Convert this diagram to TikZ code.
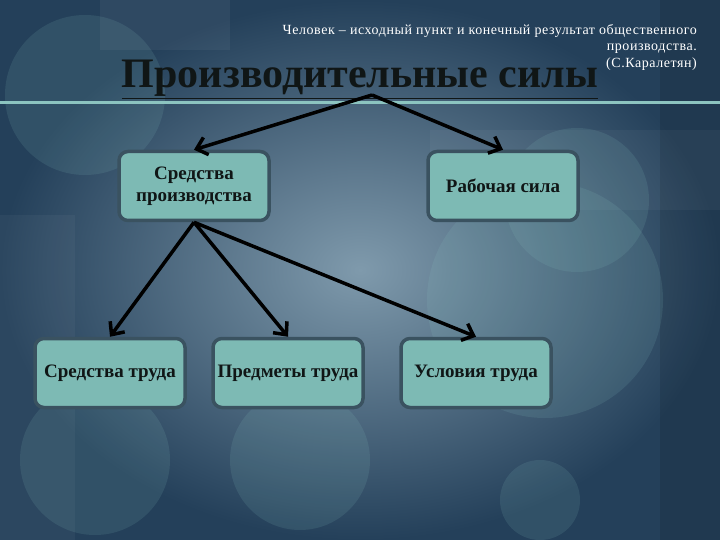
\documentclass[tikz,border=0pt]{standalone}
\usepackage{fontspec}
\setmainfont{Liberation Serif}
\usetikzlibrary{arrows.meta}
\definecolor{boxfill}{HTML}{7DBAB4}
\definecolor{boxline}{HTML}{3A5260}
\definecolor{bgdark}{HTML}{24405A}
\definecolor{bglight}{HTML}{7F9AAC}
\definecolor{circ}{HTML}{8CC8C4}
\definecolor{hline}{HTML}{8CC4C0}
\definecolor{ink}{HTML}{101616}
\tikzset{
  box/.style={draw=boxline, line width=3.5pt, fill=boxfill, rounded corners=9pt,
    minimum width=150pt, minimum height=69pt, align=center, inner sep=1pt,
    font=\bfseries\fontsize{19}{22}\selectfont, text=ink},
  arr/.style={draw=black, line width=3.5pt, -{Straight Barb[length=10pt,width=18pt,line width=3.5pt]}},
  blob/.style={fill=circ, fill opacity=0.13}
}
\begin{document}
\begin{tikzpicture}[x=1pt,y=-1pt]
\useasboundingbox (0,0) rectangle (720,540);
% background
\shade[inner color=bglight, outer color=bgdark] (0,0) rectangle (720,540);
\fill[white, opacity=0.05] (100,0) rectangle (230,50);
\fill[white, opacity=0.04] (0,215) rectangle (75,540);
\fill[black, opacity=0.10] (660,0) rectangle (720,540);
\fill[white, opacity=0.04] (430,130) rectangle (720,210);
\fill[blob] (85,95) circle (80);
\fill[blob] (577,200) circle (72);
\fill[blob] (545,300) circle (118);
\fill[blob] (95,460) circle (75);
\fill[blob] (540,500) circle (40);
\fill[blob] (300,460) circle (70);
% horizontal line
\draw[hline, line width=3pt] (0,103) -- (720,103);
% quote
\node[anchor=north east, align=right, text=white, inner sep=0pt,
  font=\fontsize{14}{16.5}\selectfont\addfontfeature{LetterSpace=4}] (quote) at (697,24)
  {Человек – исходный пункт и конечный результат общественного\\ производства.\\ (С.Каралетян)};
% title
\node[anchor=base, inner sep=0pt, text=ink, font=\bfseries\fontsize{42}{44}\selectfont] (title) at (360,88)
  {\underline{Производительные силы}};
\coordinate (src) at (372,95);
% boxes
\node[box] (sp) at (194,186) {Средства\\производства};
\node[box] (rs) at (503,186) {Рабочая сила};
\node[box] (st) at (110,373) {Средства труда};
\node[box] (pt) at (288,373) {Предметы труда};
\node[box] (ut) at (476,373) {Условия труда};
% arrows
\draw[arr] (src) -- (sp.north);
\draw[arr] (src) -- (rs.north);
\draw[arr] (sp.south) -- (st.north);
\draw[arr] (sp.south) -- (pt.north);
\draw[arr] (sp.south) -- (ut.north);
\end{tikzpicture}
\end{document}
